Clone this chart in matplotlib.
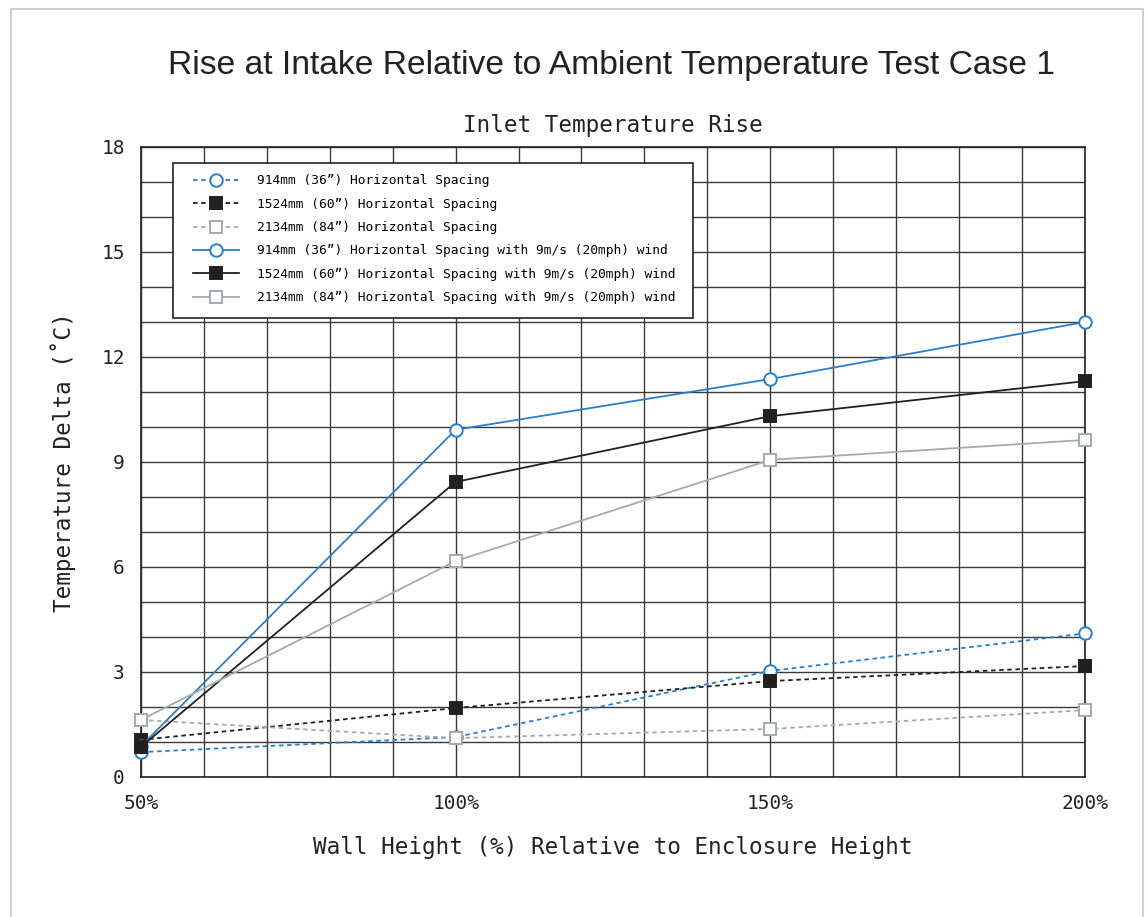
import matplotlib
matplotlib.use("Agg")
import matplotlib.pyplot as plt
from matplotlib.patches import Rectangle

# ---- data ----
wall_height = [50, 100, 150, 200]
x_tick_labels = ["50%", "100%", "150%", "200%"]
y_ticks = [0, 3, 6, 9, 12, 15, 18]

s914 = [0.71, 1.14, 3.03, 4.10]
s1524 = [1.06, 1.97, 2.74, 3.17]
s2134 = [1.63, 1.11, 1.37, 1.91]
w914 = [0.88, 9.92, 11.37, 13.00]
w1524 = [0.86, 8.43, 10.31, 11.31]
w2134 = [1.63, 6.17, 9.06, 9.63]

labels = [
    "914mm (36\u201d) Horizontal Spacing",
    "1524mm (60\u201d) Horizontal Spacing",
    "2134mm (84\u201d) Horizontal Spacing",
    "914mm (36\u201d) Horizontal Spacing with 9m/s (20mph) wind",
    "1524mm (60\u201d) Horizontal Spacing with 9m/s (20mph) wind",
    "2134mm (84\u201d) Horizontal Spacing with 9m/s (20mph) wind",
]

BLUE = "#2b7fc7"
BLACK = "#231f20"
GRAY = "#a3abb0"
MONO = "DejaVu Sans Mono"

fig = plt.figure(figsize=(11.47, 9.17), dpi=100)
fig.patches.append(Rectangle((0.0096, -0.02), 0.9869, 1.0102, transform=fig.transFigure,
                             fill=False, edgecolor="#d0d0d0", linewidth=1.5))
ax = fig.add_axes([0.1229, 0.1527, 0.8230, 0.6870])

series = [
    (s914, BLUE, (0, (2.5, 2)), "o", "white", BLUE),
    (s1524, BLACK, (0, (2.5, 2)), "s", BLACK, BLACK),
    (s2134, GRAY, (0, (2.5, 2)), "s", "white", GRAY),
    (w914, BLUE, "-", "o", "white", BLUE),
    (w1524, BLACK, "-", "s", BLACK, BLACK),
    (w2134, GRAY, "-", "s", "white", GRAY),
]
for (vals, c, ls, m, fc, ec), lab in zip(series, labels):
    ms = 9 if m == "o" else 8
    ax.plot(wall_height, vals, color=c, linestyle=ls, linewidth=1.3, marker=m,
            markersize=ms, markerfacecolor=fc, markeredgecolor=ec,
            markeredgewidth=1.4, label=lab, zorder=5, clip_on=False)

ax.set_xlim(50, 200)
ax.set_ylim(0, 18)
ax.set_xticks(wall_height)
ax.set_xticklabels(x_tick_labels)
ax.set_yticks(y_ticks)
ax.set_xticks(range(50, 201, 10), minor=True)
ax.set_yticks(range(0, 19, 1), minor=True)
ax.grid(True, which="both", color="#3a3a3a", linewidth=1.0)
ax.set_axisbelow(True)
ax.tick_params(which="both", length=0)
ax.tick_params(axis="x", pad=12, labelsize=14, colors="#222222")
ax.tick_params(axis="y", pad=11.5, labelsize=14, colors="#222222")
for t in ax.get_xticklabels() + ax.get_yticklabels():
    t.set_fontfamily(MONO)
for sp in ax.spines.values():
    sp.set_color("#222222")
    sp.set_linewidth(1.2)

ax.set_xlabel("Wall Height (%) Relative to Enclosure Height", fontfamily=MONO,
              fontsize=16.3, labelpad=17, color="#222222")
ax.set_ylabel("Temperature Delta (\u02daC)", fontfamily=MONO, fontsize=16.3,
              labelpad=18, color="#222222")
ax.set_title("Inlet Temperature Rise", fontfamily=MONO, fontsize=16.3,
             pad=11, color="#222222")
fig.text(0.533, 0.929, "Rise at Intake Relative to Ambient Temperature Test Case 1",
         ha="center", va="center", fontsize=24.2, fontfamily="Liberation Sans",
         color="#222222")

# legend frame drawn separately (wider horizontal padding than matplotlib's borderpad)
ax.add_patch(Rectangle((0.0339, 0.7286), 0.5508, 0.2460, transform=ax.transAxes,
                       facecolor="white", edgecolor="#222222", linewidth=1.2,
                       zorder=9, clip_on=False))
leg = ax.legend(loc="upper left", bbox_to_anchor=(0.0424, 0.975), prop={"family": MONO, "size": 9.3},
                frameon=False, borderpad=0.9,
                handlelength=3.6, labelspacing=0.8, handletextpad=1.4, borderaxespad=0)
leg.set_zorder(10)

fig.savefig("out.png", dpi=100)
